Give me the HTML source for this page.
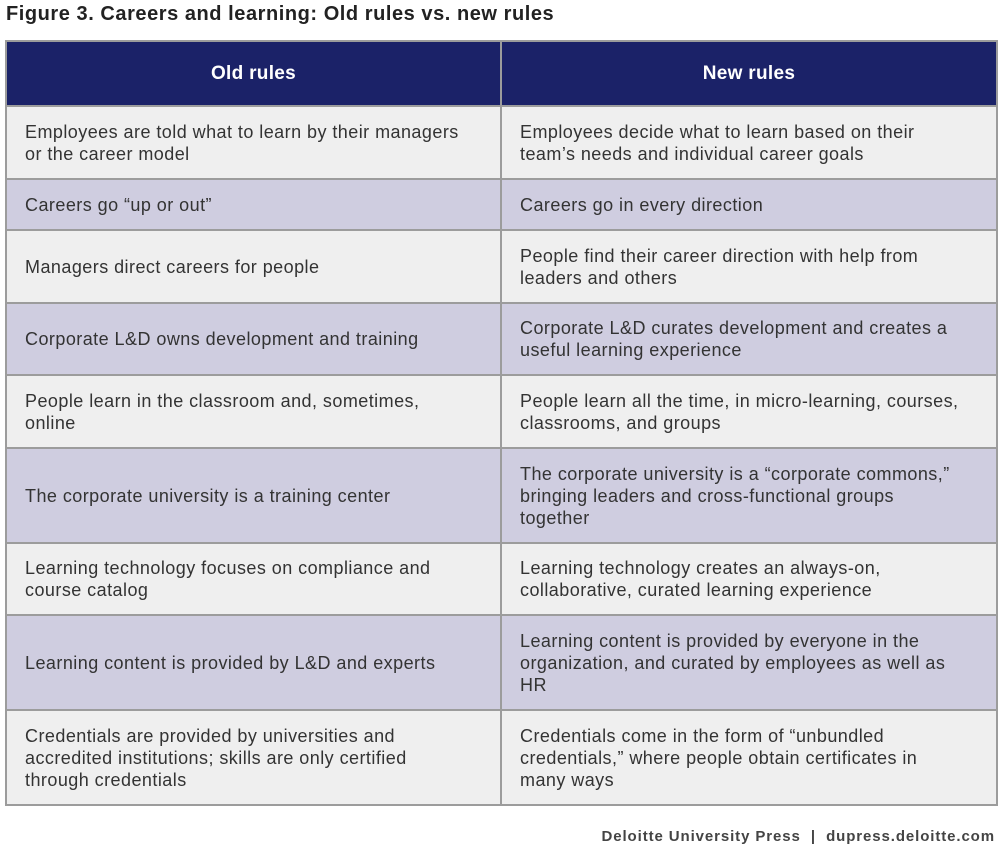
<!DOCTYPE html>
<html><head><meta charset="utf-8"><style>
body{margin:0;width:1000px;height:856px;background:#fff;font-family:"Liberation Sans",sans-serif;position:relative;overflow:hidden}
#title{position:absolute;left:6px;top:3px;font-size:20px;letter-spacing:0.55px;font-weight:bold;color:#222}
table{position:absolute;left:5px;top:40px;width:991px;border-collapse:collapse;table-layout:fixed}
td,th{border:2px solid #9c9c9c;padding:0 0 0 18px;font-size:18px;letter-spacing:0.45px;line-height:22px;color:#333;text-align:left;vertical-align:middle;white-space:nowrap;overflow:hidden}
th{background:#1b2268;color:#fff;text-align:center;font-size:19px;letter-spacing:0.3px;padding:0;height:63px}
tr.l td{background:#efefef}
tr.p td{background:#cfcde0}
#source{position:absolute;right:5px;top:828px;font-size:15px;letter-spacing:0.9px;font-weight:bold;color:#444}
</style></head><body>
<div id="title">Figure 3. Careers and learning: Old rules vs. new rules</div>
<table>
<colgroup><col style="width:495px"><col style="width:496px"></colgroup>
<tr><th>Old rules</th><th>New rules</th></tr>
<tr class="l" style="height:73px"><td>Employees are told what to learn by their managers<br>or the career model</td><td>Employees decide what to learn based on their<br>team’s needs and individual career goals</td></tr>
<tr class="p" style="height:51px"><td>Careers go “up or out”</td><td>Careers go in every direction</td></tr>
<tr class="l" style="height:73px"><td>Managers direct careers for people</td><td>People find their career direction with help from<br>leaders and others</td></tr>
<tr class="p" style="height:72px"><td>Corporate L&amp;D owns development and training</td><td>Corporate L&amp;D curates development and creates a<br>useful learning experience</td></tr>
<tr class="l" style="height:73px"><td>People learn in the classroom and, sometimes,<br>online</td><td>People learn all the time, in micro-learning, courses,<br>classrooms, and groups</td></tr>
<tr class="p" style="height:95px"><td>The corporate university is a training center</td><td>The corporate university is a “corporate commons,”<br>bringing leaders and cross-functional groups<br>together</td></tr>
<tr class="l" style="height:72px"><td>Learning technology focuses on compliance and<br>course catalog</td><td>Learning technology creates an always-on,<br>collaborative, curated learning experience</td></tr>
<tr class="p" style="height:95px"><td>Learning content is provided by L&amp;D and experts</td><td>Learning content is provided by everyone in the<br>organization, and curated by employees as well as<br>HR</td></tr>
<tr class="l" style="height:95px"><td>Credentials are provided by universities and<br>accredited institutions; skills are only certified<br>through credentials</td><td>Credentials come in the form of “unbundled<br>credentials,” where people obtain certificates in<br>many ways</td></tr>
</table>
<div id="source">Deloitte University Press &nbsp;|&nbsp; dupress.deloitte.com</div>
</body></html>
